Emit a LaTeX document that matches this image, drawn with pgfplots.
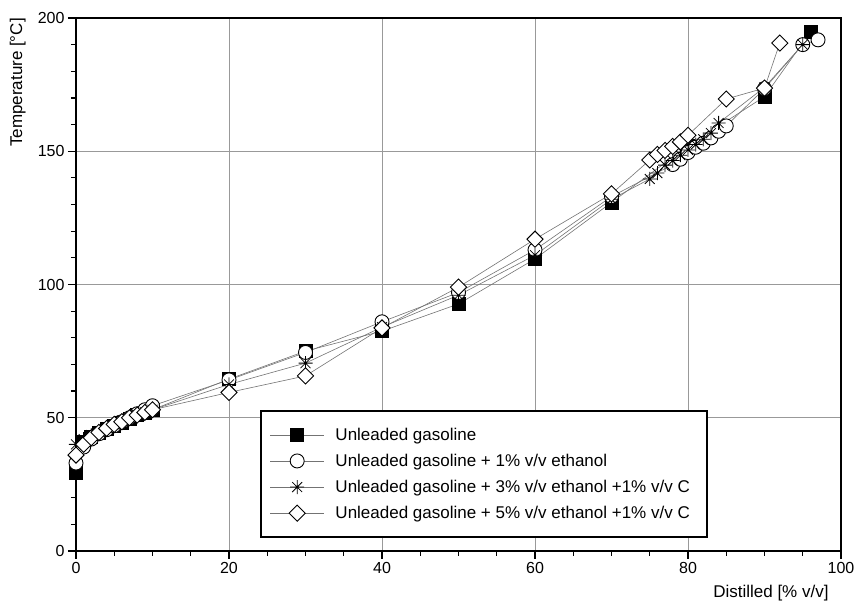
\documentclass[border=0pt]{standalone}
\usepackage{pgfplots}
\pgfplotsset{compat=1.18}
\usepackage{fontspec}
\setmainfont{Liberation Sans}

% eight-armed star used for the 3% blend
\pgfdeclareplotmark{star8}{%
  \pgfpathmoveto{\pgfqpoint{0pt}{\pgfplotmarksize}}\pgfpathlineto{\pgfqpoint{0pt}{-\pgfplotmarksize}}%
  \pgfpathmoveto{\pgfqpoint{\pgfplotmarksize}{0pt}}\pgfpathlineto{\pgfqpoint{-\pgfplotmarksize}{0pt}}%
  \pgfpathmoveto{\pgfqpoint{.7071\pgfplotmarksize}{.7071\pgfplotmarksize}}\pgfpathlineto{\pgfqpoint{-.7071\pgfplotmarksize}{-.7071\pgfplotmarksize}}%
  \pgfpathmoveto{\pgfqpoint{.7071\pgfplotmarksize}{-.7071\pgfplotmarksize}}\pgfpathlineto{\pgfqpoint{-.7071\pgfplotmarksize}{.7071\pgfplotmarksize}}%
  \pgfusepathqstroke}

\begin{document}
\begin{tikzpicture}
% page frame: axis box sits at (0,0)-(765pt,533pt)
\useasboundingbox (-76pt,-53pt) rectangle (781pt,551pt);
\begin{axis}[
    scale only axis,
    width=765pt, height=533pt,
    xmin=0, xmax=100, ymin=0, ymax=200,
    xtick={0,20,...,100}, ytick={0,50,...,200},
    minor x tick num=3, minor y tick num=4,
    tick pos=left, tick align=outside,
    major tick length=8pt, minor tick length=5pt,
    every tick/.style={black, line width=1.2pt},
    grid=major,
    major grid style={gray!80, line width=0.8pt},
    axis line style={line width=1.8pt},
    /pgf/number format/assume math mode=true,
    tick label style={font=\fontsize{16}{19}\selectfont},
    xlabel={Distilled [\% v/v]},
    ylabel={Temperature [°C]},
    label style={font=\fontsize{17}{20}\selectfont, inner sep=0pt},
    xlabel style={at={(axis description cs:0.984,-0.064)}, anchor=north east},
    ylabel style={at={(axis description cs:-0.0654,1)}, anchor=south east},
    every axis plot/.append style={gray!90!black, line width=0.6pt},
    legend image code/.code={%
      \draw[mark repeat=2, mark phase=2] plot coordinates {(0pt,0pt) (27pt,0pt) (54pt,0pt)};},
    legend cell align=left,
    legend style={at={(axis description cs:0.2405,0.2645)}, anchor=north west,
      draw=black, line width=1.8pt, fill=white,
      font=\fontsize{17}{20}\selectfont,
      inner xsep=9pt, inner ysep=15pt, row sep=8.3pt, column sep=9pt},
]

\addplot[mark=square*, mark size=6.5pt, mark options={draw=black, fill=black, line width=0.6pt}]
coordinates {
(0,29.5) (1,41) (2,43) (3,44.5) (4,46) (5,47) (6,48) (7,49.5) (8,51) (9,52) (10,53)
(20,64.5) (30,75) (40,82.5) (50,92.7) (60,109.6) (70,130.8) (80,152) (90,170.5) (96,194.7)
};
\addlegendentry{Unleaded gasoline}

\addplot[mark=*, mark size=7pt, mark options={draw=black, fill=white, line width=0.9pt}]
coordinates {
(0,33) (1,39) (2,42) (3,44) (4,45.5) (5,47) (6,48.5) (7,50) (8,51.5) (9,53) (10,54.5)
(20,64.2) (30,74.5) (40,86) (50,97) (60,113) (70,133)
(78,145) (79,147) (80,149.5) (81,151.5) (82,153) (83,155) (84,157.5) (85,159.5)
(90,173.5) (95,190) (97,191.8)
};
\addlegendentry{Unleaded gasoline + 1\% v/v ethanol}

\addplot[mark=star8, mark size=7pt, mark options={draw=black, line width=0.8pt}]
coordinates {
(0,40) (1,42) (2,43.5) (3,45) (4,46.5) (5,47.5) (6,49) (7,50) (8,51) (9,52) (10,53)
(20,62.5) (30,70.5) (40,84) (50,96) (60,111) (70,132)
(75,139.6) (76,141.8) (77,144.8) (78,146.5) (79,148.5) (80,150.5) (81,152.5) (82,154.5)
(83,156.8) (84,160.6) (90,174) (95,190)
};
\addlegendentry{Unleaded gasoline + 3\% v/v ethanol +1\% v/v C}

\addplot[mark=square*, mark size=5.7pt, mark options={rotate=45, draw=black, fill=white, line width=0.9pt}]
coordinates {
(0,36) (1,40) (2,42.5) (3,44.5) (4,46) (5,47.5) (6,48.5) (7,50) (8,51) (9,52) (10,53)
(20,59.5) (30,65.7) (40,83.7) (50,99) (60,117) (70,134)
(75,146.7) (76,148.8) (77,150.3) (78,151.8) (79,153.5) (80,156)
(85,169.6) (90,173.7) (92,190.6)
};
\addlegendentry{Unleaded gasoline + 5\% v/v ethanol +1\% v/v C\hspace*{6pt}}

\end{axis}
\end{tikzpicture}
\end{document}
